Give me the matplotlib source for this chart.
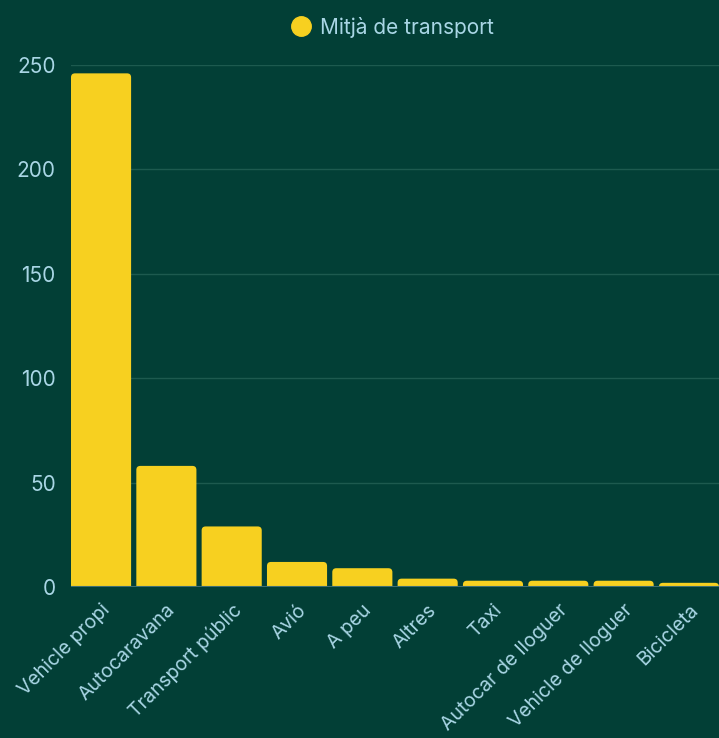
import matplotlib.pyplot as plt
from matplotlib.patches import FancyBboxPatch
from matplotlib.lines import Line2D

# Data
categories = ["Vehicle propi", "Autocaravana", "Transport públic", "Avió", "A peu",
              "Altres", "Taxi", "Autocar de lloguer", "Vehicle de lloguer", "Bicicleta"]
values = [246, 58, 29, 12, 9, 4, 3, 3, 3, 2]
series_name = "Mitjà de transport"
y_ticks = [0, 50, 100, 150, 200, 250]

bg = "#023f36"
bar_color = "#f7d020"
text_color = "#a9d6e5"
grid_color = "#1d5a4f"

plt.rcParams['font.family'] = ['Inter', 'DejaVu Sans']

fig = plt.figure(figsize=(7.19, 7.38), dpi=100, facecolor=bg)
ax = fig.add_axes([71 / 719, 1 - 587 / 738, 648 / 719, (587 - 65) / 738])
ax.set_facecolor(bg)

w = 0.92
x = range(len(categories))
bars = ax.bar(x, values, width=w, color=bar_color)

# swap plain rectangles for round-topped ones (bottom hidden below zero)
ax.set_xlim(-w / 2, len(categories) - 1 + w / 2)
ax.set_ylim(0, 250)
px_x = (len(categories) - 1 + w) / 648
px_y = 250 / 522
r = 4  # corner radius in pixels
for b in bars:
    b.set_visible(False)
    bx, bw, h = b.get_x(), b.get_width(), b.get_height()
    p = FancyBboxPatch((bx, -r * px_y), bw, h + r * px_y,
                       boxstyle="round,pad=0,rounding_size=%f" % (r * px_x),
                       mutation_aspect=px_y / px_x,
                       facecolor=bar_color, edgecolor="none", zorder=3)
    ax.add_patch(p)

ax.set_yticks(y_ticks)
ax.set_yticklabels([str(t) for t in y_ticks])
ax.grid(axis='y', color=grid_color, linewidth=1)
ax.set_axisbelow(True)
ax.axhline(0, color="#3f6e72", linewidth=1.5, zorder=4)

ax.set_xticks(list(x))
ax.set_xticklabels(categories, rotation=45, ha='right', rotation_mode='anchor')
ax.tick_params(axis='both', length=0, colors=text_color)
ax.tick_params(axis='x', pad=10, labelsize=14)
ax.tick_params(axis='y', pad=11, labelsize=15)
for s in ax.spines.values():
    s.set_visible(False)

handle = Line2D([], [], marker='o', linestyle='none', markersize=14,
                markerfacecolor=bar_color, markeredgecolor=bar_color)
fig.legend([handle], [series_name], loc='center', bbox_to_anchor=(0.538, 1 - 27 / 738),
           frameon=False, fontsize=15, labelcolor=text_color,
           handletextpad=-0.1, borderaxespad=0)

fig.savefig("out.png", dpi=100, facecolor=bg)
